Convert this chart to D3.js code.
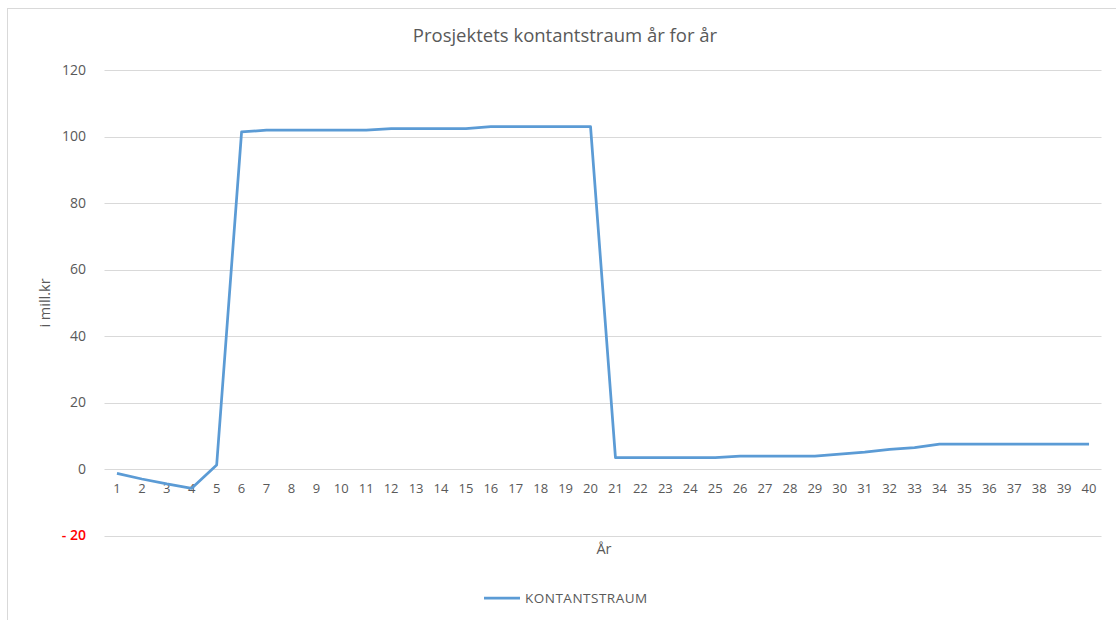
<!DOCTYPE html>
<html><head><meta charset="utf-8">
<script src="https://cdn.jsdelivr.net/npm/d3@7"></script>
<style>body{margin:0;background:#fff;} svg{display:block;font-family:"Open Sans","Noto Sans",sans-serif;}</style>
</head><body>
<script>
const years = d3.range(1, 41).map(String);
const kontantstraum = [-1.3, -3.0, -4.5, -5.8, 1.2, 101.4, 101.9, 101.9, 101.9, 101.9,
  101.9, 102.4, 102.4, 102.4, 102.4, 103.0, 103.0, 103.0, 103.0, 103.0,
  3.4, 3.4, 3.4, 3.4, 3.4, 3.9, 3.9, 3.9, 3.9, 4.5,
  5.1, 5.9, 6.4, 7.5, 7.5, 7.5, 7.5, 7.5, 7.5, 7.5];
const yTicks = [-20, 0, 20, 40, 60, 80, 100, 120];
const title = "Prosjektets kontantstraum år for år";
const yTitle = "i mill.kr";
const xTitle = "År";
const seriesName = "KONTANTSTRAUM";

const W = 1116, H = 620;
const svg = d3.select("body").append("svg").attr("width", W).attr("height", H);
svg.append("rect").attr("x", 7.5).attr("y", 8.5).attr("width", W).attr("height", H)
  .attr("fill", "#fff").attr("stroke", "#d9d9d9").attr("stroke-width", 1);

const x = d3.scaleBand().domain(years).range([104.5, 1101.5]);
const y = d3.scaleLinear().domain([-20, 120]).range([535.5, 70]);

// gridlines
svg.append("g").selectAll("line").data(yTicks).join("line")
  .attr("x1", 104.5).attr("x2", 1101.5)
  .attr("y1", d => Math.round(y(d)) + 0.5).attr("y2", d => Math.round(y(d)) + 0.5)
  .attr("stroke", "#d9d9d9").attr("stroke-width", 1);

// y labels
svg.append("g").selectAll("text").data(yTicks).join("text")
  .attr("x", 86).attr("y", d => y(d)).attr("dy", "0.35em")
  .attr("text-anchor", "end").attr("font-size", 14)
  .attr("fill", d => d < 0 ? "#ff0000" : "#595959")
  .attr("font-weight", d => d < 0 ? 600 : "normal")
  .text(d => d < 0 ? "- " + Math.abs(d) : d);

// x labels
svg.append("g").selectAll("text").data(years).join("text")
  .attr("x", d => x(d) + x.bandwidth() / 2).attr("y", 488).attr("dy", "0.35em")
  .attr("text-anchor", "middle").attr("font-size", 13).attr("fill", "#595959")
  .text(d => d);

// line
const line = d3.line().x((d, i) => x(years[i]) + x.bandwidth() / 2).y(d => y(d));
svg.append("path").datum(kontantstraum).attr("d", line)
  .attr("fill", "none").attr("stroke", "#5b9bd5").attr("stroke-width", 2.75)
  .attr("stroke-linejoin", "round");

// titles
svg.append("text").attr("x", 565).attr("y", 36).attr("dy", "0.35em")
  .attr("text-anchor", "middle").attr("font-size", 18.5).attr("fill", "#595959").text(title);
svg.append("text").attr("transform", "translate(45,303) rotate(-90)").attr("dy", "0.35em")
  .attr("text-anchor", "middle").attr("font-size", 14.5).attr("fill", "#595959").text(yTitle);
svg.append("text").attr("x", 604).attr("y", 549).attr("dy", "0.35em")
  .attr("text-anchor", "middle").attr("font-size", 14.5).attr("fill", "#595959").text(xTitle);

// legend
svg.append("line").attr("x1", 484).attr("x2", 520).attr("y1", 598).attr("y2", 598)
  .attr("stroke", "#5b9bd5").attr("stroke-width", 2.75);
svg.append("text").attr("x", 525).attr("y", 598).attr("dy", "0.35em")
  .attr("font-size", 13.5).attr("letter-spacing", 0.5).attr("fill", "#595959").text(seriesName);
</script>
</body></html>
